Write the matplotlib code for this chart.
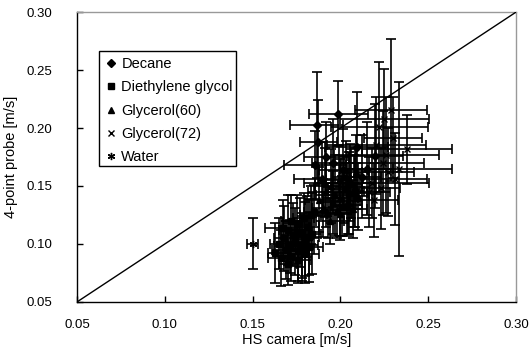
import matplotlib
matplotlib.use("Agg")
import matplotlib.pyplot as plt
from matplotlib.lines import Line2D
from matplotlib.patches import Rectangle

plt.rcParams['font.family'] = ['Liberation Sans', 'DejaVu Sans']

# ---- data ----
dec_x = [0.1865, 0.1988, 0.1874, 0.1855, 0.2093, 0.1920, 0.2015, 0.1895, 0.1960, 0.2055, 0.2150, 0.2195, 0.2120]
dec_y = [0.2026, 0.2125, 0.1880, 0.1680, 0.1840, 0.1750, 0.1640, 0.1560, 0.1700, 0.1530, 0.1650, 0.1760, 0.1580]
dec_xerr = [0.0150, 0.0170, 0.0105, 0.0175, 0.0180, 0.0130, 0.0140, 0.0160, 0.0120, 0.0140, 0.0150, 0.0160, 0.0110]
dec_yerr = [0.0460, 0.0280, 0.0360, 0.0290, 0.0470, 0.0300, 0.0350, 0.0320, 0.0380, 0.0330, 0.0400, 0.0450, 0.0360]

deg_x = [0.1630, 0.1650, 0.1660, 0.1680, 0.1690, 0.1700, 0.1710, 0.1720, 0.1730, 0.1740, 0.1750, 0.1760, 0.1770, 0.1780,
         0.1790, 0.1800, 0.1810, 0.1820, 0.1830, 0.1840, 0.1670, 0.1720, 0.1760, 0.1800, 0.1850, 0.1700, 0.1780, 0.1820]
deg_y = [0.0920, 0.1000, 0.0880, 0.1050, 0.0950, 0.1120, 0.0980, 0.0900, 0.1080, 0.1020, 0.1180, 0.0940, 0.1100, 0.0990,
         0.1220, 0.1040, 0.1150, 0.0970, 0.1250, 0.1090, 0.1140, 0.1200, 0.0860, 0.0910, 0.1280, 0.0830, 0.0960, 0.1060]
deg_xerr = [0.0040, 0.0050, 0.0070, 0.0060, 0.0080, 0.0050, 0.0090, 0.0060, 0.0070, 0.0050, 0.0080, 0.0060, 0.0070, 0.0090,
            0.0060, 0.0050, 0.0070, 0.0080, 0.0060, 0.0050, 0.0100, 0.0060, 0.0070, 0.0080, 0.0060, 0.0050, 0.0070, 0.0060]
deg_yerr = [0.0260, 0.0220, 0.0240, 0.0280, 0.0250, 0.0300, 0.0230, 0.0220, 0.0270, 0.0290, 0.0240, 0.0260, 0.0300, 0.0280,
            0.0220, 0.0320, 0.0260, 0.0300, 0.0250, 0.0350, 0.0240, 0.0220, 0.0200, 0.0250, 0.0230, 0.0180, 0.0280, 0.0330]

g60_x = [0.1880, 0.1900, 0.1915, 0.1930, 0.1945, 0.1960, 0.1970, 0.1980, 0.1990, 0.2000, 0.2010, 0.2020, 0.2030,
         0.2040, 0.2050, 0.2060, 0.2070, 0.2080, 0.2090, 0.2100, 0.1910, 0.1940, 0.1995, 0.2035, 0.2075]
g60_y = [0.1380, 0.1310, 0.1450, 0.1270, 0.1500, 0.1360, 0.1420, 0.1290, 0.1550, 0.1400, 0.1330, 0.1470, 0.1580,
         0.1370, 0.1440, 0.1520, 0.1300, 0.1490, 0.1620, 0.1410, 0.1530, 0.1200, 0.1260, 0.1340, 0.1460]
g60_xerr = [0.0080, 0.0060, 0.0100, 0.0070, 0.0090, 0.0060, 0.0110, 0.0080, 0.0070, 0.0100, 0.0060, 0.0090, 0.0080,
            0.0070, 0.0100, 0.0060, 0.0080, 0.0090, 0.0070, 0.0060, 0.0120, 0.0080, 0.0070, 0.0090, 0.0060]
g60_yerr = [0.0280, 0.0250, 0.0300, 0.0220, 0.0320, 0.0270, 0.0350, 0.0240, 0.0300, 0.0330, 0.0260, 0.0290, 0.0310,
            0.0280, 0.0350, 0.0300, 0.0250, 0.0340, 0.0320, 0.0290, 0.0300, 0.0200, 0.0230, 0.0270, 0.0310]

g72_x = [0.2286, 0.2377, 0.2336, 0.2250, 0.2222, 0.2300, 0.2262, 0.2180, 0.2240, 0.2310, 0.2205, 0.2270, 0.2160, 0.2190, 0.2230]
g72_y = [0.2155, 0.1816, 0.1650, 0.2080, 0.2010, 0.1916, 0.1767, 0.1528, 0.1700, 0.1560, 0.1850, 0.1620, 0.1450, 0.1380, 0.1480]
g72_xerr = [0.0205, 0.0257, 0.0298, 0.0255, 0.0275, 0.0166, 0.0298, 0.0326, 0.0235, 0.0180, 0.0280, 0.0150, 0.0120, 0.0140, 0.0110]
g72_yerr = [0.0615, 0.0300, 0.0750, 0.0430, 0.0560, 0.0350, 0.0500, 0.0300, 0.0450, 0.0400, 0.0420, 0.0380, 0.0300, 0.0320, 0.0350]

wat_x = [0.1500]
wat_y = [0.1000]
wat_xerr = [0.0030]
wat_yerr = [0.0220]

diag = [0.05, 0.30]
ticks = [0.05, 0.10, 0.15, 0.20, 0.25, 0.30]

series = [
    ("Decane", 'D', 3.6, dec_x, dec_y, dec_xerr, dec_yerr),
    ("Diethylene glycol", 's', 3.8, deg_x, deg_y, deg_xerr, deg_yerr),
    ("Glycerol(60)", '^', 4.4, g60_x, g60_y, g60_xerr, g60_yerr),
    ("Glycerol(72)", 'x', 4.4, g72_x, g72_y, g72_xerr, g72_yerr),
    ("Water", (6, 2, 0), 5.2, wat_x, wat_y, wat_xerr, wat_yerr),
]

fig = plt.figure(figsize=(5.31, 3.54), dpi=100)
ax = fig.add_axes([0.145, 0.147, 0.827, 0.819])

handles = []
for name, mk, ms, xs, ys, xe, ye in series:
    ax.errorbar(xs, ys, xerr=xe, yerr=ye, fmt='none', ecolor='black',
                elinewidth=1.2, capsize=3.5, capthick=1.2, zorder=2)
    ax.plot(xs, ys, ls='none', marker=mk, ms=ms, color='black', mew=1, zorder=3)
    handles.append(Line2D([], [], ls='none', marker=mk, ms=ms, color='black', mew=1, label=name))

ax.plot(diag, diag, color='black', lw=1, zorder=4)

ax.set_xlim(0.05, 0.30)
ax.set_ylim(0.05, 0.30)
ax.set_xticks(ticks)
ax.set_yticks(ticks)
ax.set_xticklabels(["%.2f" % t for t in ticks])
ax.set_yticklabels(["%.2f" % t for t in ticks])
ax.tick_params(direction='in', length=4, width=1, labelsize=9.5)
ax.tick_params(axis='x', pad=12)
ax.tick_params(axis='y', pad=18)
ax.set_xlabel("HS camera [m/s]", fontsize=10.5, labelpad=2)
ax.set_ylabel("4-point probe [m/s]", fontsize=10.5, labelpad=6)

for s in ['left', 'bottom']:
    ax.spines[s].set_color('black')
    ax.spines[s].set_linewidth(1)
for s in ['top', 'right']:
    ax.spines[s].set_color('#999999')
    ax.spines[s].set_linewidth(1)

ax.add_patch(Rectangle((0.050, 0.469), 0.312, 0.397, transform=ax.transAxes,
                       fill=True, facecolor='white', edgecolor='black', lw=1, zorder=5))
leg = ax.legend(handles=handles, loc='upper left', bbox_to_anchor=(0.056, 0.864),
                frameon=False, fontsize=10.5, handlelength=0.5, handletextpad=0.45,
                labelspacing=0.63, borderaxespad=0)
leg.set_zorder(6)

plt.savefig("out.png", dpi=100)
